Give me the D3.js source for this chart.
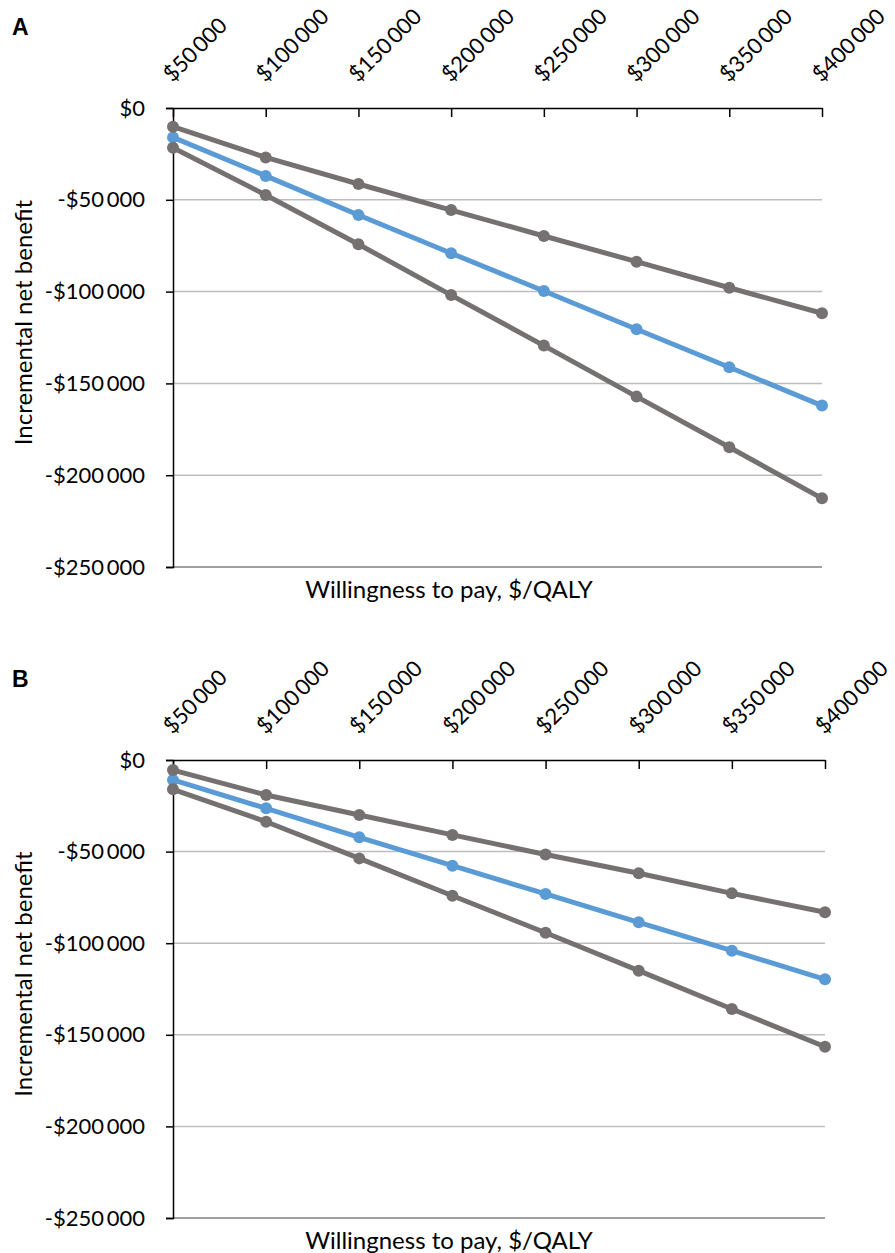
<!DOCTYPE html>
<html lang="en">
<head>
<meta charset="UTF-8">
<title>Incremental net benefit by willingness to pay</title>
<script src="https://d3js.org/d3.v7.min.js"></script>
<style>
  body { margin: 0; background: #ffffff; }
  svg { display: block; background: #ffffff; font-family: Lato, "Open Sans", sans-serif; }
  .axis text { font-family: Lato, "Open Sans", sans-serif; font-size: 22px; fill: #000; }
  .x-axis text { font-size: 22px; }
  .axis-title { font-size: 24px; fill: #000; }
  .panel-label { font-family: "Liberation Sans", Arial, sans-serif; font-size: 23px; font-weight: bold; }
</style>
</head>
<body>
<svg id="chart"></svg>
<script>
// willingness-to-pay categories (x axis, shown on top)
const wtpLabels = ["$50\u2009000", "$100\u2009000", "$150\u2009000", "$200\u2009000",
                   "$250\u2009000", "$300\u2009000", "$350\u2009000", "$400\u2009000"];
const yTicks = [0, -50000, -100000, -150000, -200000, -250000];

// panel A
const aUpper = [-10200, -26900, -41400, -55600, -69700, -83700, -97900, -111800];
const aBase  = [-16000, -37000, -58300, -79100, -99700, -120500, -141200, -162100];
const aLower = [-21600, -47400, -74200, -101900, -129400, -157200, -184800, -212600];

// panel B
const bUpper = [-5500, -19100, -30000, -40900, -51600, -61800, -72800, -83100];
const bBase  = [-10900, -26400, -42200, -57700, -73100, -88600, -104100, -119700];
const bLower = [-16000, -33700, -53700, -74100, -94300, -115000, -135900, -156500];

const W = 895, H = 1253;
const svg = d3.select("#chart").attr("width", W).attr("height", H);

const fmt = d3.formatLocale({
  decimal: ".", thousands: "\u2009", grouping: [3], currency: ["$", ""], minus: "-"
}).format("$,");

function drawPanel(opts) {
  const { label, top, bottom, left, right, upper, base, lower } = opts;

  const x = d3.scalePoint().domain(wtpLabels).range([left, right]);
  const y = d3.scaleLinear().domain([0, -250000]).range([top, bottom]);

  const g = svg.append("g");

  // gridlines
  g.selectAll(".grid")
    .data(yTicks.filter(v => v !== 0))
    .enter()
    .append("line")
    .attr("x1", left)
    .attr("x2", right)
    .attr("y1", d => y(d))
    .attr("y2", d => y(d))
    .attr("stroke", d => d === -250000 ? "#7f7f7f" : "#bdbdbd")
    .attr("stroke-width", 1.5);

  // y axis
  const yAxis = g.append("g")
    .attr("class", "axis")
    .attr("transform", `translate(${left},0)`)
    .call(d3.axisLeft(y).tickValues(yTicks).tickSize(7).tickPadding(21).tickFormat(fmt));
  yAxis.select(".domain").attr("stroke", "#000").attr("stroke-width", 1.5);
  yAxis.selectAll(".tick line").attr("stroke", "#000").attr("stroke-width", 1.5);

  // x axis along $0, ticks pointing down, labels rotated above
  const xAxis = g.append("g")
    .attr("class", "axis x-axis")
    .attr("transform", `translate(0,${top})`)
    .call(d3.axisTop(x).tickSizeInner(-9).tickSizeOuter(0).tickPadding(0));
  xAxis.select(".domain").attr("stroke", "#000").attr("stroke-width", 1.5);
  xAxis.selectAll(".tick line").attr("stroke", "#000").attr("stroke-width", 1.5);
  xAxis.selectAll(".tick text")
    .attr("text-anchor", "start")
    .attr("x", 0)
    .attr("y", 0)
    .attr("dy", 0)
    .attr("transform", "translate(-1,-25) rotate(-45)");

  // series
  const line = d3.line()
    .x((d, i) => x(wtpLabels[i]))
    .y(d => y(d));

  const series = [
    { values: base, color: "#5b9bd5" },
    { values: lower, color: "#767171" },
    { values: upper, color: "#767171" }
  ];

  series.forEach(s => {
    g.append("path")
      .datum(s.values)
      .attr("fill", "none")
      .attr("stroke", s.color)
      .attr("stroke-width", 5)
      .attr("d", line);

    g.selectAll(null)
      .data(s.values)
      .enter()
      .append("circle")
      .attr("cx", (d, i) => x(wtpLabels[i]))
      .attr("cy", d => y(d))
      .attr("r", 6)
      .attr("fill", s.color);
  });

  // axis titles
  g.append("text")
    .attr("class", "axis-title")
    .attr("x", 449)
    .attr("y", bottom + 31)
    .attr("text-anchor", "middle")
    .text("Willingness to pay, $/QALY");

  g.append("text")
    .attr("class", "axis-title")
    .attr("transform", `translate(32,${(top + bottom) / 2 - 15}) rotate(-90)`)
    .attr("text-anchor", "middle")
    .text("Incremental net benefit");

  g.append("text")
    .attr("class", "panel-label")
    .attr("x", 12)
    .attr("y", top - 73)
    .text(label);
}

drawPanel({ label: "A", top: 108, bottom: 567, left: 173, right: 822,
            upper: aUpper, base: aBase, lower: aLower });
drawPanel({ label: "B", top: 760, bottom: 1218, left: 173, right: 825,
            upper: bUpper, base: bBase, lower: bLower });
</script>
</body>
</html>
